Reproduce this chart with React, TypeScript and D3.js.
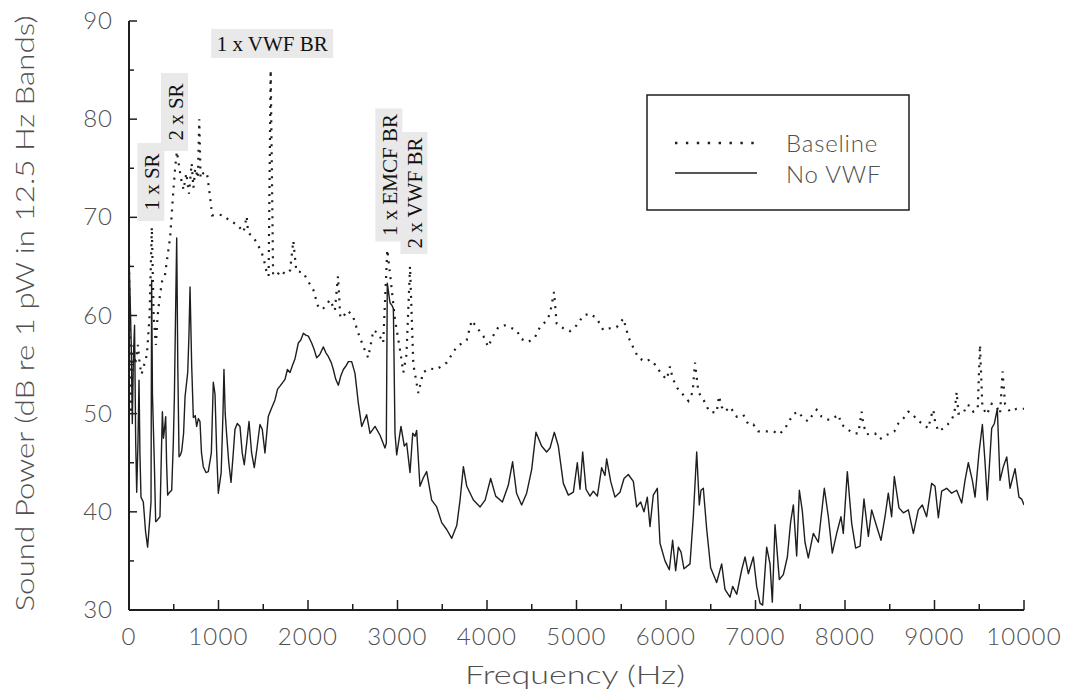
import * as d3 from 'd3';

// Sound power spectra, [frequency Hz, dB re 1 pW]
const baseline: [number, number][] = [
  [0, 66], [10, 58], [20, 50], [35, 54], [50, 57], [70, 55], [100, 57], [120, 55], [140, 54], [170, 55],
  [200, 56], [230, 60], [255, 69], [275, 60], [300, 57], [320, 60], [345, 62], [370, 63.5], [400, 64],
  [430, 66], [460, 68], [490, 72], [515, 75], [535, 76.7], [555, 75.5], [580, 74], [610, 72.8], [640, 74.5],
  [670, 72.4], [700, 75.5], [720, 73], [740, 75], [770, 74], [785, 80], [800, 74], [830, 74.5], [870, 74.6],
  [900, 72.5], [930, 70.2], [990, 70.3], [1054, 70.2], [1130, 69.6], [1203, 69.3], [1280, 68.5], [1315, 70.1],
  [1330, 68.5], [1426, 67.5], [1500, 66], [1538, 64.4], [1560, 64], [1583, 85], [1610, 64.3], [1650, 64],
  [1690, 64.6], [1750, 64.2], [1800, 64.6], [1836, 67.6], [1870, 64.5], [1945, 64.4], [2000, 63.5],
  [2060, 62.6], [2110, 61], [2160, 60.6], [2200, 61], [2245, 61.6], [2300, 60.5], [2335, 64], [2360, 60],
  [2380, 59.7], [2440, 60.5], [2500, 60], [2562, 58.2], [2620, 56.8], [2672, 55.7], [2700, 57], [2730, 58.5],
  [2784, 58.2], [2840, 57.2], [2886, 66.7], [2916, 64.3], [2972, 59.6], [3028, 56.5], [3065, 54.2],
  [3100, 56], [3140, 65], [3177, 55], [3233, 52.1], [3286, 54.2], [3360, 54.6], [3435, 54.5], [3550, 55.2],
  [3661, 56.8], [3773, 57.5], [3829, 59.5], [3885, 58.8], [3960, 57.9], [4013, 56.8], [4067, 57.9],
  [4126, 58.8], [4200, 59], [4256, 58.8], [4330, 58.5], [4386, 57.6], [4462, 57.3], [4536, 57.8],
  [4591, 58.8], [4667, 59.5], [4704, 60.2], [4749, 62.4], [4778, 59.2], [4853, 58.7], [4927, 58.4],
  [5002, 59], [5077, 60], [5151, 60.2], [5226, 59.7], [5300, 58.5], [5375, 58.7], [5449, 58.8], [5524, 59.7],
  [5580, 57.8], [5636, 56.7], [5692, 55.7], [5766, 55.3], [5821, 55.5], [5877, 55], [5952, 54], [6008, 53.5],
  [6045, 54.8], [6074, 53.6], [6127, 52.6], [6194, 51.9], [6250, 51.3], [6298, 52.2], [6324, 55.2],
  [6362, 52.2], [6425, 51.3], [6484, 50.2], [6566, 50.1], [6592, 51.8], [6622, 50.7], [6659, 50.2],
  [6715, 50.7], [6790, 49.7], [6864, 49.9], [6920, 48.9], [6976, 48.9], [7032, 48.2], [7125, 48.2],
  [7200, 48.2], [7266, 47.9], [7330, 48.5], [7386, 49.4], [7430, 50], [7479, 50.2], [7535, 49.5],
  [7590, 49.2], [7646, 50], [7683, 50.4], [7739, 49.7], [7795, 49.4], [7851, 49.4], [7925, 49.9],
  [7963, 48.9], [8030, 48.4], [8093, 48], [8149, 48], [8186, 50.2], [8205, 48.9], [8242, 47.9], [8335, 48],
  [8391, 47.4], [8447, 47.8], [8484, 47.9], [8551, 48.2], [8596, 49], [8652, 49.5], [8708, 50.2], [8752, 50],
  [8801, 49.4], [8875, 48.9], [8931, 48.5], [8961, 49.7], [8987, 50.4], [9006, 49.2], [9043, 48.2],
  [9099, 48.5], [9148, 48.9], [9192, 49.4], [9222, 50], [9248, 52.2], [9267, 50], [9323, 50], [9360, 50.9],
  [9397, 50.8], [9434, 50.2], [9483, 50.5], [9508, 57], [9535, 50.7], [9583, 49.9], [9639, 51], [9695, 50.7],
  [9732, 50], [9761, 54.3], [9788, 51], [9844, 50.2], [9918, 50.5], [10000, 50.5],
];

const noVwf: [number, number][] = [
  [0, 66], [12, 62], [25, 57], [37, 49], [50, 56], [62, 59], [75, 47], [86, 42], [100, 47], [112, 53.4],
  [122, 46], [134, 41.5], [160, 41], [185, 38], [208, 36.4], [230, 39], [246, 41], [253, 63.6], [262, 52],
  [283, 45], [298, 39], [320, 39.2], [346, 39.5], [362, 46], [373, 50.2], [385, 47.5], [395, 48.3],
  [410, 49.7], [420, 45], [432, 41.7], [455, 42], [477, 42.2], [495, 47], [507, 51.7], [520, 60], [533, 67.9],
  [545, 55], [559, 45.6], [575, 45.8], [589, 46.2], [610, 48], [626, 51.7], [656, 54.2], [670, 58],
  [682, 62.9], [700, 55], [719, 49.6], [740, 49.8], [756, 48.7], [775, 49.5], [793, 49.2], [810, 46],
  [830, 44.6], [860, 44], [886, 44.1], [920, 46], [942, 53.2], [961, 52], [980, 46], [998, 41.9], [1030, 44],
  [1050, 50], [1061, 54.5], [1075, 50], [1090, 48], [1115, 45], [1140, 43], [1165, 46], [1184, 48.4],
  [1210, 49], [1240, 48.7], [1265, 46], [1288, 44.8], [1315, 47], [1341, 49.2], [1370, 46], [1400, 44.5],
  [1430, 46.5], [1463, 48.9], [1489, 48.4], [1519, 46], [1556, 49.7], [1590, 50.5], [1631, 51.4],
  [1660, 52.5], [1687, 52.8], [1743, 53.5], [1770, 54.5], [1799, 54.2], [1830, 55], [1855, 55.6],
  [1892, 57.2], [1920, 57.5], [1948, 58.2], [1975, 58], [2004, 57.9], [2041, 57.2], [2070, 56.5],
  [2097, 55.7], [2130, 56], [2172, 56.8], [2200, 56.2], [2228, 55.8], [2260, 55.2], [2283, 54.5],
  [2310, 53.5], [2339, 52.9], [2365, 53.8], [2395, 54.5], [2420, 54.8], [2451, 55.3], [2488, 55.3],
  [2525, 54.1], [2562, 51.1], [2600, 48.7], [2655, 49.9], [2693, 48], [2749, 48.7], [2805, 47.8],
  [2860, 46.5], [2875, 47], [2886, 63.3], [2916, 61.3], [2940, 61], [2954, 60.7], [2972, 48], [2991, 45.8],
  [3039, 48.7], [3076, 46.7], [3102, 47], [3140, 44], [3170, 48], [3196, 47.7], [3214, 48.3], [3251, 42.6],
  [3290, 43.5], [3326, 44.1], [3382, 41.2], [3438, 40.5], [3494, 38.9], [3550, 38.2], [3606, 37.3],
  [3662, 38.6], [3699, 41.2], [3736, 44.6], [3774, 42.6], [3848, 41.2], [3923, 40.5], [3979, 41.2],
  [4041, 43.4], [4097, 41.6], [4172, 41], [4238, 42.7], [4286, 45.1], [4330, 41.9], [4387, 40.7],
  [4443, 41.9], [4499, 44.3], [4547, 48.1], [4610, 46.7], [4666, 46.1], [4704, 46.5], [4752, 48.1],
  [4797, 46.7], [4853, 42.9], [4909, 41.7], [4965, 42], [5009, 45], [5039, 42.3], [5069, 46.1], [5106, 42.3],
  [5151, 41.6], [5188, 42.1], [5233, 41.6], [5281, 44.5], [5318, 43.7], [5337, 45.4], [5382, 43.1],
  [5430, 41.5], [5486, 42], [5531, 43.4], [5579, 43.8], [5635, 43.1], [5672, 40.5], [5717, 41], [5754, 40],
  [5791, 41.5], [5821, 38.5], [5858, 41.7], [5903, 42.4], [5933, 36.8], [5989, 35], [6037, 34.1],
  [6074, 37.1], [6108, 34], [6138, 36.4], [6168, 35.9], [6201, 34.2], [6268, 34.7], [6305, 39.5],
  [6343, 46.1], [6372, 40.7], [6391, 42.2], [6417, 42.4], [6455, 38.2], [6499, 34.3], [6566, 32.8],
  [6622, 34.7], [6659, 32.1], [6715, 31.3], [6745, 32.4], [6790, 31.6], [6846, 34.1], [6883, 35.4],
  [6920, 33.7], [6976, 35.4], [7013, 32.4], [7050, 30.7], [7080, 30.5], [7125, 36.4], [7162, 34.7],
  [7188, 30.8], [7218, 38.7], [7266, 33.1], [7311, 33.6], [7356, 35.4], [7393, 39], [7423, 40.7],
  [7460, 35.5], [7490, 42.2], [7523, 40.1], [7553, 36.9], [7590, 35.3], [7646, 37.8], [7702, 36.9],
  [7769, 42.4], [7814, 39.5], [7858, 35.8], [7907, 37.8], [7955, 39.5], [7981, 37.8], [8026, 44.1],
  [8075, 38.8], [8119, 36.3], [8168, 36.5], [8212, 41.3], [8261, 37.5], [8298, 40.2], [8354, 38.5],
  [8402, 37.1], [8447, 39.5], [8484, 41.9], [8521, 39.5], [8551, 43.6], [8603, 40.4], [8652, 39.9],
  [8708, 40.2], [8764, 37.8], [8819, 40.2], [8864, 40.7], [8912, 39.5], [8968, 42.9], [9006, 42.6],
  [9043, 39.4], [9080, 42.1], [9136, 42.4], [9192, 41.9], [9248, 42.2], [9304, 40.9], [9341, 43.2],
  [9378, 45], [9423, 43.2], [9453, 41.5], [9497, 46], [9535, 48.9], [9565, 45], [9590, 41.2], [9639, 48.5],
  [9669, 49], [9702, 50.5], [9732, 43.2], [9769, 44.6], [9807, 45.6], [9844, 42.4], [9900, 44.4],
  [9944, 41.5], [9974, 41.3], [10000, 40.7],
];

const xTicks = [0, 1000, 2000, 3000, 4000, 5000, 6000, 7000, 8000, 9000, 10000];
const yTicks = [30, 40, 50, 60, 70, 80, 90];

// peak annotations: label, frequency it sits over, vertical centre, rotated or not
const annotations: { label: string; hz: number; cy: number; rotated: boolean }[] = [
  { label: '1 x SR', hz: 260, cy: 182, rotated: true },
  { label: '2 x SR', hz: 525, cy: 112, rotated: true },
  { label: '1 x VWF BR', hz: 1600, cy: 44, rotated: false },
  { label: '1 x EMCF BR', hz: 2920, cy: 175, rotated: true },
  { label: '2 x VWF BR', hz: 3200, cy: 193, rotated: true },
];

const legendItems = ['Baseline', 'No VWF'];

const W = 1066;
const H = 698;
const margin = { left: 129, right: 42, top: 21, bottom: 88 };
const ink = '#1e1e1e';
const grayText = '#505050';
const sansFont = 'Lato, "DejaVu Sans", sans-serif';
const serifFont = '"Liberation Serif", "Times New Roman", serif';

export default function App() {
  const x = d3.scaleLinear().domain([0, 10000]).range([margin.left, W - margin.right]);
  const y = d3.scaleLinear().domain([30, 90]).range([H - margin.bottom, margin.top]);

  const line = d3.line<[number, number]>()
    .x(d => x(d[0]))
    .y(d => y(d[1]));

  const minorX = d3.range(500, 10000, 1000);
  const minorY = d3.range(35, 90, 10);
  const x0 = x(0);
  const y0 = y(30);

  return (
    <svg width={W} height={H} style={{ position: 'absolute', left: 0, top: 0, background: '#fff' }}>
      <defs>
        <clipPath id="plot">
          <rect x={x0} y={y(90) - 2} width={x(10000) - x0} height={y0 - y(90) + 2} />
        </clipPath>
      </defs>

      {/* annotation labels */}
      {annotations.map(a => {
        const len = a.label.length * 11;
        const cx = x(a.hz);
        return (
          <g key={a.label} transform={`translate(${cx},${a.cy})${a.rotated ? ' rotate(-90)' : ''}`}>
            <rect x={-len / 2 - 6} y={-15} width={len + 12} height={a.rotated ? 27 : 29} fill="#e9e9e9" />
            <text x={0} y={7} textAnchor="middle" fontFamily={serifFont} fontSize={21} fill="#111">{a.label}</text>
          </g>
        );
      })}

      {/* data */}
      <g clipPath="url(#plot)">
        <path d={line(baseline) ?? ''} fill="none" stroke={ink} strokeWidth={2.2} strokeDasharray="2 6" />
        <path d={line(noVwf) ?? ''} fill="none" stroke={ink} strokeWidth={1.4} strokeLinejoin="round" />
      </g>

      {/* axes */}
      <line x1={x0} x2={x0} y1={y(90)} y2={y0} stroke={ink} strokeWidth={2} />
      <line x1={x0} x2={x(10000)} y1={y0} y2={y0} stroke={ink} strokeWidth={2} />
      {yTicks.map(t => (
        <g key={'y' + t}>
          <line x1={x0} x2={x0 + 8} y1={y(t)} y2={y(t)} stroke={ink} strokeWidth={1.5} />
          <text x={113} y={y(t) + 8} textAnchor="end" fontFamily={sansFont} fontWeight={300} fontSize={24} letterSpacing={1} fill={grayText}>{t}</text>
        </g>
      ))}
      {minorY.map(t => (
        <line key={'my' + t} x1={x0} x2={x0 + 5} y1={y(t)} y2={y(t)} stroke={ink} strokeWidth={1.5} />
      ))}
      {xTicks.map(t => (
        <g key={'x' + t}>
          <line x1={x(t)} x2={x(t)} y1={y0} y2={y0 - (t === 0 ? 0 : 10)} stroke={ink} strokeWidth={1.5} />
          <text x={x(t)} y={y0 + 35} textAnchor="middle" fontFamily={sansFont} fontWeight={300} fontSize={24} letterSpacing={1.2} fill={grayText}>{t}</text>
        </g>
      ))}
      {minorX.map(t => (
        <line key={'mx' + t} x1={x(t)} x2={x(t)} y1={y0} y2={y0 - 6} stroke={ink} strokeWidth={1.5} />
      ))}

      {/* axis titles */}
      <text
        transform={`translate(34,${(y(90) + y0) / 2 - 2}) rotate(-90)`}
        textAnchor="middle"
        fontFamily={sansFont}
        fontWeight={300}
        fontSize={25}
        fill={grayText}
        textLength={596}
        lengthAdjust="spacingAndGlyphs"
      >
        Sound Power (dB re 1 pW in 12.5 Hz Bands)
      </text>
      <text
        x={575}
        y={684}
        textAnchor="middle"
        fontFamily={sansFont}
        fontWeight={300}
        fontSize={25}
        fill={grayText}
        textLength={220}
        lengthAdjust="spacingAndGlyphs"
      >
        Frequency (Hz)
      </text>

      {/* legend */}
      <rect x={647} y={95} width={262} height={115} fill="#fff" stroke={ink} strokeWidth={1.5} />
      {legendItems.map((name, i) => (
        <g key={name}>
          <line
            x1={675}
            x2={757}
            y1={143 + i * 30}
            y2={143 + i * 30}
            stroke={ink}
            strokeWidth={i === 0 ? 2.4 : 1.3}
            strokeDasharray={i === 0 ? '2.4 8.5' : undefined}
          />
          <text x={786} y={152 + i * 31} fontFamily={sansFont} fontWeight={300} fontSize={24} letterSpacing={0.8} fill={grayText}>{name}</text>
        </g>
      ))}
    </svg>
  );
}
